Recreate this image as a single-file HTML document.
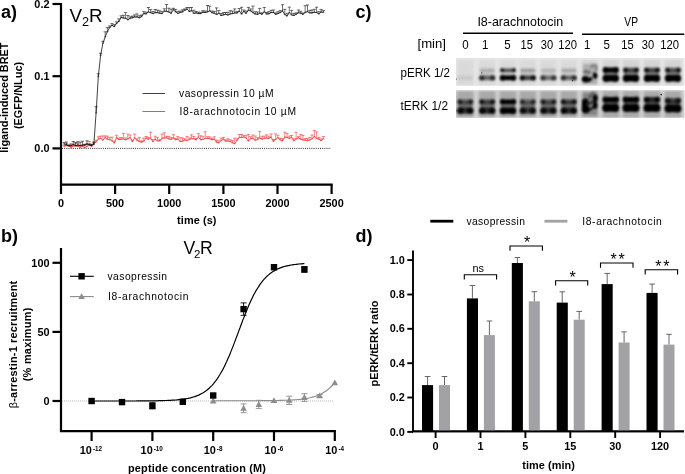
<!DOCTYPE html>
<html><head><meta charset="utf-8"><title>figure</title>
<style>
html,body{margin:0;padding:0;background:#fff}
svg{display:block}
text{font-family:"Liberation Sans",sans-serif;fill:#000}
.b{font-weight:bold}
.ax{stroke:#000;stroke-width:2.2;fill:none;stroke-linecap:butt}
#panel-d .ax{stroke-width:1.9}
</style></head><body>
<svg width="685" height="474" viewBox="0 0 685 474">
<defs><filter id="bl" x="-20%" y="-50%" width="140%" height="200%"><feGaussianBlur stdDeviation="1.1"/></filter><filter id="bl3" x="-30%" y="-30%" width="160%" height="160%"><feGaussianBlur stdDeviation="1.6"/></filter><filter id="bl2" x="-20%" y="-50%" width="140%" height="200%"><feGaussianBlur stdDeviation="0.7"/></filter><clipPath id="cp1"><rect x="456" y="58" width="228.5" height="27.8"/></clipPath><clipPath id="cp2"><rect x="456" y="90.2" width="228.5" height="27.6"/></clipPath></defs>
<rect width="685" height="474" fill="#fff"/>
<g id="panel-a">
<text class="b" x="1" y="17.8" font-size="18">a)</text>
<text x="69.5" y="22.3" font-size="17.7" textLength="33.2" lengthAdjust="spacingAndGlyphs">V<tspan dy="3.5" font-size="12">2</tspan><tspan dy="-3.5">R</tspan></text>
<path class="ax" d="M61 2.9 V184.7 H332.7"/>
<path class="ax" d="M52.5 4.0 H61"/><text class="b" x="49.5" y="7.9" font-size="10.9" text-anchor="end">0.2</text>
<path class="ax" d="M52.5 76.2 H61"/><text class="b" x="49.5" y="80.1" font-size="10.9" text-anchor="end">0.1</text>
<path class="ax" d="M52.5 148.4 H61"/><text class="b" x="49.5" y="152.3" font-size="10.9" text-anchor="end">0.0</text>
<path class="ax" d="M61.0 184.7 V194"/><text class="b" x="61.0" y="207.3" font-size="10.9" text-anchor="middle">0</text>
<path class="ax" d="M115.1 184.7 V194"/><text class="b" x="115.1" y="207.3" font-size="10.9" text-anchor="middle">500</text>
<path class="ax" d="M169.2 184.7 V194"/><text class="b" x="169.2" y="207.3" font-size="10.9" text-anchor="middle">1000</text>
<path class="ax" d="M223.4 184.7 V194"/><text class="b" x="223.4" y="207.3" font-size="10.9" text-anchor="middle">1500</text>
<path class="ax" d="M277.5 184.7 V194"/><text class="b" x="277.5" y="207.3" font-size="10.9" text-anchor="middle">2000</text>
<path class="ax" d="M331.6 184.7 V194"/><text class="b" x="331.6" y="207.3" font-size="10.9" text-anchor="middle">2500</text>
<text class="b" x="196.8" y="224" font-size="10.9" text-anchor="middle" textLength="39.4">time (s)</text>
<text class="b" transform="translate(7.8,97.6) rotate(-90)" font-size="10.9" text-anchor="middle">ligand-induced BRET</text>
<text class="b" transform="translate(21.8,95.5) rotate(-90)" font-size="10.9" text-anchor="middle">(EGFP/NLuc)</text>
<path d="M62 148.4 H331" stroke="#111" stroke-width="0.9" stroke-dasharray="1 1.15" fill="none"/>
<path d="M64.2 146.3 L66.5 145.7 L68.8 145.8 L71.1 147.4 L73.3 146.0 L75.6 146.1 L77.9 146.2 L80.2 147.3 L82.4 146.4 L84.7 147.5 L87.0 146.5 L89.3 144.3 L91.5 146.5 L93.8 143.5 L96.1 142.0 L98.3 139.0 L100.6 138.5 L102.9 140.1 L105.2 137.6 L107.4 139.2 L109.7 139.7 L112.0 140.8 L114.3 142.9 L116.5 137.7 L118.8 139.5 L121.1 139.2 L123.4 139.0 L125.6 139.8 L127.9 138.9 L130.2 137.5 L132.4 141.5 L134.7 137.9 L137.0 140.2 L139.3 141.4 L141.5 142.2 L143.8 141.2 L146.1 138.1 L148.4 139.3 L150.6 138.3 L152.9 141.7 L155.2 139.2 L157.5 140.8 L159.7 141.0 L162.0 138.3 L164.3 138.0 L166.5 137.8 L168.8 138.9 L171.1 139.4 L173.4 138.2 L175.6 139.7 L177.9 139.1 L180.2 141.5 L182.5 141.3 L184.7 140.1 L187.0 140.5 L189.3 139.6 L191.5 138.7 L193.8 138.9 L196.1 139.9 L198.4 137.1 L200.6 139.8 L202.9 139.5 L205.2 138.4 L207.5 138.5 L209.7 138.7 L212.0 139.7 L214.3 139.3 L216.6 142.3 L218.8 142.8 L221.1 140.5 L223.4 139.2 L225.6 141.1 L227.9 141.1 L230.2 141.5 L232.5 142.8 L234.7 143.7 L237.0 140.4 L239.3 137.4 L241.6 137.4 L243.8 137.1 L246.1 137.9 L248.4 141.1 L250.7 138.6 L252.9 138.3 L255.2 140.2 L257.5 139.6 L259.7 138.1 L262.0 139.1 L264.3 138.5 L266.6 138.1 L268.8 138.3 L271.1 137.2 L273.4 141.3 L275.7 139.3 L277.9 137.7 L280.2 139.9 L282.5 140.9 L284.8 137.1 L287.0 137.5 L289.3 138.4 L291.6 137.5 L293.8 140.7 L296.1 138.9 L298.4 138.0 L300.7 139.2 L302.9 139.9 L305.2 140.2 L307.5 140.7 L309.8 140.0 L312.0 138.9 L314.3 136.6 L316.6 138.6 L318.9 139.1 L321.1 140.5 L323.4 138.9" stroke="#f03535" stroke-width="0.8" fill="none" stroke-linejoin="round"/>
<path d="M64.2 146.3V145.5M62.6 145.5H65.8M63.2 146.3H65.2M66.5 145.7V141.7M64.9 141.7H68.1M65.5 145.7H67.5M68.8 145.8V145.0M67.2 145.0H70.4M67.8 145.8H69.8M71.1 147.4V146.2M69.5 146.2H72.7M70.1 147.4H72.1M73.3 146.0V144.5M71.7 144.5H74.9M72.3 146.0H74.3M75.6 146.1V143.2M74.0 143.2H77.2M74.6 146.1H76.6M77.9 146.2V143.8M76.3 143.8H79.5M76.9 146.2H78.9M80.2 147.3V145.7M78.6 145.7H81.8M79.2 147.3H81.2M82.4 146.4V145.2M80.8 145.2H84.0M81.4 146.4H83.4M84.7 147.5V145.0M83.1 145.0H86.3M83.7 147.5H85.7M87.0 146.5V143.8M85.4 143.8H88.6M86.0 146.5H88.0M89.3 144.3V141.6M87.7 141.6H90.9M88.3 144.3H90.3M91.5 146.5V144.5M89.9 144.5H93.1M90.5 146.5H92.5M93.8 143.5V142.1M92.2 142.1H95.4M92.8 143.5H94.8M96.1 142.0V140.1M94.5 140.1H97.7M95.1 142.0H97.1M98.3 139.0V136.7M96.7 136.7H99.9M97.3 139.0H99.3M100.6 138.5V136.1M99.0 136.1H102.2M99.6 138.5H101.6M102.9 140.1V136.0M101.3 136.0H104.5M101.9 140.1H103.9M105.2 137.6V135.9M103.6 135.9H106.8M104.2 137.6H106.2M107.4 139.2V136.2M105.8 136.2H109.0M106.4 139.2H108.4M109.7 139.7V137.6M108.1 137.6H111.3M108.7 139.7H110.7M112.0 140.8V137.1M110.4 137.1H113.6M111.0 140.8H113.0M114.3 142.9V141.2M112.7 141.2H115.9M113.3 142.9H115.3M116.5 137.7V135.3M114.9 135.3H118.1M115.5 137.7H117.5M118.8 139.5V138.0M117.2 138.0H120.4M117.8 139.5H119.8M121.1 139.2V137.5M119.5 137.5H122.7M120.1 139.2H122.1M123.4 139.0V133.4M121.8 133.4H125.0M122.4 139.0H124.4M125.6 139.8V137.9M124.0 137.9H127.2M124.6 139.8H126.6M127.9 138.9V134.1M126.3 134.1H129.5M126.9 138.9H128.9M130.2 137.5V135.0M128.6 135.0H131.8M129.2 137.5H131.2M132.4 141.5V140.2M130.8 140.2H134.0M131.4 141.5H133.4M134.7 137.9V134.1M133.1 134.1H136.3M133.7 137.9H135.7M137.0 140.2V138.8M135.4 138.8H138.6M136.0 140.2H138.0M139.3 141.4V137.4M137.7 137.4H140.9M138.3 141.4H140.3M141.5 142.2V140.9M139.9 140.9H143.1M140.5 142.2H142.5M143.8 141.2V138.1M142.2 138.1H145.4M142.8 141.2H144.8M146.1 138.1V136.5M144.5 136.5H147.7M145.1 138.1H147.1M148.4 139.3V137.3M146.8 137.3H150.0M147.4 139.3H149.4M150.6 138.3V132.2M149.0 132.2H152.2M149.6 138.3H151.6M152.9 141.7V139.4M151.3 139.4H154.5M151.9 141.7H153.9M155.2 139.2V136.2M153.6 136.2H156.8M154.2 139.2H156.2M157.5 140.8V137.4M155.9 137.4H159.1M156.5 140.8H158.5M159.7 141.0V139.6M158.1 139.6H161.3M158.7 141.0H160.7M162.0 138.3V134.1M160.4 134.1H163.6M161.0 138.3H163.0M164.3 138.0V132.8M162.7 132.8H165.9M163.3 138.0H165.3M166.5 137.8V136.3M164.9 136.3H168.1M165.5 137.8H167.5M168.8 138.9V136.4M167.2 136.4H170.4M167.8 138.9H169.8M171.1 139.4V137.5M169.5 137.5H172.7M170.1 139.4H172.1M173.4 138.2V134.7M171.8 134.7H175.0M172.4 138.2H174.4M175.6 139.7V138.3M174.0 138.3H177.2M174.6 139.7H176.6M177.9 139.1V136.6M176.3 136.6H179.5M176.9 139.1H178.9M180.2 141.5V137.7M178.6 137.7H181.8M179.2 141.5H181.2M182.5 141.3V137.9M180.9 137.9H184.1M181.5 141.3H183.5M184.7 140.1V138.7M183.1 138.7H186.3M183.7 140.1H185.7M187.0 140.5V136.4M185.4 136.4H188.6M186.0 140.5H188.0M189.3 139.6V137.8M187.7 137.8H190.9M188.3 139.6H190.3M191.5 138.7V134.8M189.9 134.8H193.1M190.5 138.7H192.5M193.8 138.9V136.5M192.2 136.5H195.4M192.8 138.9H194.8M196.1 139.9V138.4M194.5 138.4H197.7M195.1 139.9H197.1M198.4 137.1V133.7M196.8 133.7H200.0M197.4 137.1H199.4M200.6 139.8V135.8M199.0 135.8H202.2M199.6 139.8H201.6M202.9 139.5V136.3M201.3 136.3H204.5M201.9 139.5H203.9M205.2 138.4V131.7M203.6 131.7H206.8M204.2 138.4H206.2M207.5 138.5V136.7M205.9 136.7H209.1M206.5 138.5H208.5M209.7 138.7V136.9M208.1 136.9H211.3M208.7 138.7H210.7M212.0 139.7V138.2M210.4 138.2H213.6M211.0 139.7H213.0M214.3 139.3V136.8M212.7 136.8H215.9M213.3 139.3H215.3M216.6 142.3V140.1M215.0 140.1H218.2M215.6 142.3H217.6M218.8 142.8V140.8M217.2 140.8H220.4M217.8 142.8H219.8M221.1 140.5V138.2M219.5 138.2H222.7M220.1 140.5H222.1M223.4 139.2V137.4M221.8 137.4H225.0M222.4 139.2H224.4M225.6 141.1V139.8M224.0 139.8H227.2M224.6 141.1H226.6M227.9 141.1V138.8M226.3 138.8H229.5M226.9 141.1H228.9M230.2 141.5V139.7M228.6 139.7H231.8M229.2 141.5H231.2M232.5 142.8V140.5M230.9 140.5H234.1M231.5 142.8H233.5M234.7 143.7V138.2M233.1 138.2H236.3M233.7 143.7H235.7M237.0 140.4V138.8M235.4 138.8H238.6M236.0 140.4H238.0M239.3 137.4V134.4M237.7 134.4H240.9M238.3 137.4H240.3M241.6 137.4V134.5M240.0 134.5H243.2M240.6 137.4H242.6M243.8 137.1V135.3M242.2 135.3H245.4M242.8 137.1H244.8M246.1 137.9V135.6M244.5 135.6H247.7M245.1 137.9H247.1M248.4 141.1V134.4M246.8 134.4H250.0M247.4 141.1H249.4M250.7 138.6V136.6M249.1 136.6H252.3M249.7 138.6H251.7M252.9 138.3V135.0M251.3 135.0H254.5M251.9 138.3H253.9M255.2 140.2V136.0M253.6 136.0H256.8M254.2 140.2H256.2M257.5 139.6V137.6M255.9 137.6H259.1M256.5 139.6H258.5M259.7 138.1V131.4M258.1 131.4H261.3M258.7 138.1H260.7M262.0 139.1V136.3M260.4 136.3H263.6M261.0 139.1H263.0M264.3 138.5V136.1M262.7 136.1H265.9M263.3 138.5H265.3M266.6 138.1V134.8M265.0 134.8H268.2M265.6 138.1H267.6M268.8 138.3V136.2M267.2 136.2H270.4M267.8 138.3H269.8M271.1 137.2V133.9M269.5 133.9H272.7M270.1 137.2H272.1M273.4 141.3V139.5M271.8 139.5H275.0M272.4 141.3H274.4M275.7 139.3V133.8M274.1 133.8H277.3M274.7 139.3H276.7M277.9 137.7V135.2M276.3 135.2H279.5M276.9 137.7H278.9M280.2 139.9V138.1M278.6 138.1H281.8M279.2 139.9H281.2M282.5 140.9V138.7M280.9 138.7H284.1M281.5 140.9H283.5M284.8 137.1V132.2M283.2 132.2H286.4M283.8 137.1H285.8M287.0 137.5V133.6M285.4 133.6H288.6M286.0 137.5H288.0M289.3 138.4V136.1M287.7 136.1H290.9M288.3 138.4H290.3M291.6 137.5V135.5M290.0 135.5H293.2M290.6 137.5H292.6M293.8 140.7V138.7M292.2 138.7H295.4M292.8 140.7H294.8M296.1 138.9V132.2M294.5 132.2H297.7M295.1 138.9H297.1M298.4 138.0V136.6M296.8 136.6H300.0M297.4 138.0H299.4M300.7 139.2V134.4M299.1 134.4H302.3M299.7 139.2H301.7M302.9 139.9V135.5M301.3 135.5H304.5M301.9 139.9H303.9M305.2 140.2V138.5M303.6 138.5H306.8M304.2 140.2H306.2M307.5 140.7V138.7M305.9 138.7H309.1M306.5 140.7H308.5M309.8 140.0V137.4M308.2 137.4H311.4M308.8 140.0H310.8M312.0 138.9V135.0M310.4 135.0H313.6M311.0 138.9H313.0M314.3 136.6V130.6M312.7 130.6H315.9M313.3 136.6H315.3M316.6 138.6V131.9M315.0 131.9H318.2M315.6 138.6H317.6M318.9 139.1V137.3M317.3 137.3H320.5M317.9 139.1H319.9M321.1 140.5V138.9M319.5 138.9H322.7M320.1 140.5H322.1M323.4 138.9V136.5M321.8 136.5H325.0M322.4 138.9H324.4" stroke="#f03535" stroke-width="0.6" fill="none"/>
<path d="M64.2 144.1 L66.5 144.9 L68.8 145.9 L71.1 145.7 L73.3 144.7 L75.6 145.7 L77.9 145.2 L80.2 145.6 L82.4 145.1 L84.7 145.1 L87.0 144.0 L89.3 145.1 L91.5 145.4 L93.8 144.6 L96.1 112.9 L98.3 76.6 L100.6 55.3 L102.9 43.3 L105.2 36.9 L107.4 31.7 L109.7 27.5 L112.0 25.4 L114.3 26.6 L116.5 23.5 L118.8 21.5 L121.1 17.5 L123.4 18.0 L125.6 18.3 L127.9 19.8 L130.2 18.3 L132.4 17.8 L134.7 17.0 L137.0 16.9 L139.3 17.8 L141.5 16.7 L143.8 13.6 L146.1 13.9 L148.4 12.0 L150.6 12.7 L152.9 13.6 L155.2 12.7 L157.5 12.6 L159.7 13.2 L162.0 13.6 L164.3 11.1 L166.5 11.3 L168.8 12.0 L171.1 13.3 L173.4 9.8 L175.6 11.8 L177.9 13.5 L180.2 12.5 L182.5 11.9 L184.7 10.3 L187.0 9.2 L189.3 11.5 L191.5 10.7 L193.8 13.4 L196.1 12.9 L198.4 13.6 L200.6 13.6 L202.9 12.2 L205.2 12.5 L207.5 11.9 L209.7 10.9 L212.0 12.7 L214.3 13.3 L216.6 14.4 L218.8 13.3 L221.1 15.5 L223.4 14.9 L225.6 14.3 L227.9 15.0 L230.2 14.0 L232.5 13.6 L234.7 13.0 L237.0 13.0 L239.3 11.2 L241.6 14.1 L243.8 11.5 L246.1 13.3 L248.4 10.3 L250.7 10.9 L252.9 12.7 L255.2 14.0 L257.5 14.3 L259.7 13.4 L262.0 14.2 L264.3 11.9 L266.6 14.0 L268.8 13.8 L271.1 12.6 L273.4 12.4 L275.7 14.3 L277.9 13.6 L280.2 12.6 L282.5 11.0 L284.8 14.6 L287.0 16.0 L289.3 12.7 L291.6 14.9 L293.8 15.5 L296.1 14.3 L298.4 12.8 L300.7 13.2 L302.9 14.3 L305.2 12.4 L307.5 11.7 L309.8 12.9 L312.0 12.9 L314.3 12.3 L316.6 12.6 L318.9 13.9 L321.1 12.1 L323.4 12.3" stroke="#111" stroke-width="0.8" fill="none" stroke-linejoin="round"/>
<path d="M64.2 144.1V142.6M62.6 142.6H65.8M63.2 144.1H65.2M66.5 144.9V143.1M64.9 143.1H68.1M65.5 144.9H67.5M68.8 145.9V145.0M67.2 145.0H70.4M67.8 145.9H69.8M71.1 145.7V143.9M69.5 143.9H72.7M70.1 145.7H72.1M73.3 144.7V141.5M71.7 141.5H74.9M72.3 144.7H74.3M75.6 145.7V142.6M74.0 142.6H77.2M74.6 145.7H76.6M77.9 145.2V141.6M76.3 141.6H79.5M76.9 145.2H78.9M80.2 145.6V142.3M78.6 142.3H81.8M79.2 145.6H81.2M82.4 145.1V141.2M80.8 141.2H84.0M81.4 145.1H83.4M84.7 145.1V144.3M83.1 144.3H86.3M83.7 145.1H85.7M87.0 144.0V140.8M85.4 140.8H88.6M86.0 144.0H88.0M89.3 145.1V144.1M87.7 144.1H90.9M88.3 145.1H90.3M91.5 145.4V144.2M89.9 144.2H93.1M90.5 145.4H92.5M93.8 144.6V142.3M92.2 142.3H95.4M92.8 144.6H94.8M96.1 112.9V106.7M94.5 106.7H97.7M95.1 112.9H97.1M98.3 76.6V73.8M96.7 73.8H99.9M97.3 76.6H99.3M100.6 55.3V53.3M99.0 53.3H102.2M99.6 55.3H101.6M102.9 43.3V41.3M101.3 41.3H104.5M101.9 43.3H103.9M105.2 36.9V31.8M103.6 31.8H106.8M104.2 36.9H106.2M107.4 31.7V27.6M105.8 27.6H109.0M106.4 31.7H108.4M109.7 27.5V25.9M108.1 25.9H111.3M108.7 27.5H110.7M112.0 25.4V23.6M110.4 23.6H113.6M111.0 25.4H113.0M114.3 26.6V24.6M112.7 24.6H115.9M113.3 26.6H115.3M116.5 23.5V21.8M114.9 21.8H118.1M115.5 23.5H117.5M118.8 21.5V18.9M117.2 18.9H120.4M117.8 21.5H119.8M121.1 17.5V15.8M119.5 15.8H122.7M120.1 17.5H122.1M123.4 18.0V15.3M121.8 15.3H125.0M122.4 18.0H124.4M125.6 18.3V12.6M124.0 12.6H127.2M124.6 18.3H126.6M127.9 19.8V15.5M126.3 15.5H129.5M126.9 19.8H128.9M130.2 18.3V16.8M128.6 16.8H131.8M129.2 18.3H131.2M132.4 17.8V16.1M130.8 16.1H134.0M131.4 17.8H133.4M134.7 17.0V14.9M133.1 14.9H136.3M133.7 17.0H135.7M137.0 16.9V13.9M135.4 13.9H138.6M136.0 16.9H138.0M139.3 17.8V15.7M137.7 15.7H140.9M138.3 17.8H140.3M141.5 16.7V15.0M139.9 15.0H143.1M140.5 16.7H142.5M143.8 13.6V11.6M142.2 11.6H145.4M142.8 13.6H144.8M146.1 13.9V12.2M144.5 12.2H147.7M145.1 13.9H147.1M148.4 12.0V7.5M146.8 7.5H150.0M147.4 12.0H149.4M150.6 12.7V9.5M149.0 9.5H152.2M149.6 12.7H151.6M152.9 13.6V11.5M151.3 11.5H154.5M151.9 13.6H153.9M155.2 12.7V9.5M153.6 9.5H156.8M154.2 12.7H156.2M157.5 12.6V10.1M155.9 10.1H159.1M156.5 12.6H158.5M159.7 13.2V10.8M158.1 10.8H161.3M158.7 13.2H160.7M162.0 13.6V11.6M160.4 11.6H163.6M161.0 13.6H163.0M164.3 11.1V8.8M162.7 8.8H165.9M163.3 11.1H165.3M166.5 11.3V4.5M164.9 4.5H168.1M165.5 11.3H167.5M168.8 12.0V8.2M167.2 8.2H170.4M167.8 12.0H169.8M171.1 13.3V9.2M169.5 9.2H172.7M170.1 13.3H172.1M173.4 9.8V8.3M171.8 8.3H175.0M172.4 9.8H174.4M175.6 11.8V9.4M174.0 9.4H177.2M174.6 11.8H176.6M177.9 13.5V11.4M176.3 11.4H179.5M176.9 13.5H178.9M180.2 12.5V11.0M178.6 11.0H181.8M179.2 12.5H181.2M182.5 11.9V9.8M180.9 9.8H184.1M181.5 11.9H183.5M184.7 10.3V8.9M183.1 8.9H186.3M183.7 10.3H185.7M187.0 9.2V7.5M185.4 7.5H188.6M186.0 9.2H188.0M189.3 11.5V7.6M187.7 7.6H190.9M188.3 11.5H190.3M191.5 10.7V7.5M189.9 7.5H193.1M190.5 10.7H192.5M193.8 13.4V10.2M192.2 10.2H195.4M192.8 13.4H194.8M196.1 12.9V11.5M194.5 11.5H197.7M195.1 12.9H197.1M198.4 13.6V12.1M196.8 12.1H200.0M197.4 13.6H199.4M200.6 13.6V12.3M199.0 12.3H202.2M199.6 13.6H201.6M202.9 12.2V10.7M201.3 10.7H204.5M201.9 12.2H203.9M205.2 12.5V11.0M203.6 11.0H206.8M204.2 12.5H206.2M207.5 11.9V5.5M205.9 5.5H209.1M206.5 11.9H208.5M209.7 10.9V6.1M208.1 6.1H211.3M208.7 10.9H210.7M212.0 12.7V11.0M210.4 11.0H213.6M211.0 12.7H213.0M214.3 13.3V11.6M212.7 11.6H215.9M213.3 13.3H215.3M216.6 14.4V7.9M215.0 7.9H218.2M215.6 14.4H217.6M218.8 13.3V10.6M217.2 10.6H220.4M217.8 13.3H219.8M221.1 15.5V13.5M219.5 13.5H222.7M220.1 15.5H222.1M223.4 14.9V12.6M221.8 12.6H225.0M222.4 14.9H224.4M225.6 14.3V12.5M224.0 12.5H227.2M224.6 14.3H226.6M227.9 15.0V12.3M226.3 12.3H229.5M226.9 15.0H228.9M230.2 14.0V10.7M228.6 10.7H231.8M229.2 14.0H231.2M232.5 13.6V11.1M230.9 11.1H234.1M231.5 13.6H233.5M234.7 13.0V8.9M233.1 8.9H236.3M233.7 13.0H235.7M237.0 13.0V11.5M235.4 11.5H238.6M236.0 13.0H238.0M239.3 11.2V8.5M237.7 8.5H240.9M238.3 11.2H240.3M241.6 14.1V7.3M240.0 7.3H243.2M240.6 14.1H242.6M243.8 11.5V10.0M242.2 10.0H245.4M242.8 11.5H244.8M246.1 13.3V11.0M244.5 11.0H247.7M245.1 13.3H247.1M248.4 10.3V7.4M246.8 7.4H250.0M247.4 10.3H249.4M250.7 10.9V8.9M249.1 8.9H252.3M249.7 10.9H251.7M252.9 12.7V6.1M251.3 6.1H254.5M251.9 12.7H253.9M255.2 14.0V11.7M253.6 11.7H256.8M254.2 14.0H256.2M257.5 14.3V12.0M255.9 12.0H259.1M256.5 14.3H258.5M259.7 13.4V8.4M258.1 8.4H261.3M258.7 13.4H260.7M262.0 14.2V12.8M260.4 12.8H263.6M261.0 14.2H263.0M264.3 11.9V7.4M262.7 7.4H265.9M263.3 11.9H265.3M266.6 14.0V12.5M265.0 12.5H268.2M265.6 14.0H267.6M268.8 13.8V11.7M267.2 11.7H270.4M267.8 13.8H269.8M271.1 12.6V10.3M269.5 10.3H272.7M270.1 12.6H272.1M273.4 12.4V10.0M271.8 10.0H275.0M272.4 12.4H274.4M275.7 14.3V12.9M274.1 12.9H277.3M274.7 14.3H276.7M277.9 13.6V11.7M276.3 11.7H279.5M276.9 13.6H278.9M280.2 12.6V10.6M278.6 10.6H281.8M279.2 12.6H281.2M282.5 11.0V4.7M280.9 4.7H284.1M281.5 11.0H283.5M284.8 14.6V9.3M283.2 9.3H286.4M283.8 14.6H285.8M287.0 16.0V13.3M285.4 13.3H288.6M286.0 16.0H288.0M289.3 12.7V7.1M287.7 7.1H290.9M288.3 12.7H290.3M291.6 14.9V10.4M290.0 10.4H293.2M290.6 14.9H292.6M293.8 15.5V13.4M292.2 13.4H295.4M292.8 15.5H294.8M296.1 14.3V12.8M294.5 12.8H297.7M295.1 14.3H297.1M298.4 12.8V10.0M296.8 10.0H300.0M297.4 12.8H299.4M300.7 13.2V11.3M299.1 11.3H302.3M299.7 13.2H301.7M302.9 14.3V13.0M301.3 13.0H304.5M301.9 14.3H303.9M305.2 12.4V5.7M303.6 5.7H306.8M304.2 12.4H306.2M307.5 11.7V5.0M305.9 5.0H309.1M306.5 11.7H308.5M309.8 12.9V10.4M308.2 10.4H311.4M308.8 12.9H310.8M312.0 12.9V10.0M310.4 10.0H313.6M311.0 12.9H313.0M314.3 12.3V9.3M312.7 9.3H315.9M313.3 12.3H315.3M316.6 12.6V7.2M315.0 7.2H318.2M315.6 12.6H317.6M318.9 13.9V11.6M317.3 11.6H320.5M317.9 13.9H319.9M321.1 12.1V9.4M319.5 9.4H322.7M320.1 12.1H322.1M323.4 12.3V10.6M321.8 10.6H325.0M322.4 12.3H324.4" stroke="#111" stroke-width="0.6" fill="none"/>
<path d="M142.5 93.5 H165" stroke="#2a2a2a" stroke-width="0.9" fill="none"/><path d="M142.5 111.5 H165" stroke="#f03a3a" stroke-width="0.9" fill="none"/>
<text x="179" y="97.4" font-size="10.3" textLength="94.5" lengthAdjust="spacing">vasopressin 10 µM</text>
<text x="179.5" y="114.6" font-size="10.3" textLength="116.5" lengthAdjust="spacing">I8-arachnotocin 10 µM</text>
</g>
<g id="panel-b">
<text class="b" x="1" y="242.3" font-size="18">b)</text>
<text x="183.5" y="254" font-size="17.7">V<tspan dy="3.5" dx="-1.3" font-size="11.5">2</tspan><tspan dy="-3.5" dx="-0.3">R</tspan></text>
<path class="ax" d="M61 248 V431.2 H335.9"/>
<path class="ax" d="M52.5 262.8 H61"/><text class="b" x="49.5" y="266.7" font-size="10.9" text-anchor="end">100</text>
<path class="ax" d="M52.5 331.9 H61"/><text class="b" x="49.5" y="335.8" font-size="10.9" text-anchor="end">50</text>
<path class="ax" d="M52.5 401.0 H61"/><text class="b" x="49.5" y="404.9" font-size="10.9" text-anchor="end">0</text>
<path class="ax" d="M91.6 431.2 V441"/><text class="b" x="79.8" y="453.6" font-size="10.9">10<tspan dy="-3" dx="1" font-size="6.3">-12</tspan></text>
<path class="ax" d="M152.4 431.2 V441"/><text class="b" x="140.6" y="453.6" font-size="10.9">10<tspan dy="-3" dx="1" font-size="6.3">-10</tspan></text>
<path class="ax" d="M213.2 431.2 V441"/><text class="b" x="203.7" y="453.6" font-size="10.9">10<tspan dy="-3" dx="1" font-size="6.3">-8</tspan></text>
<path class="ax" d="M274.0 431.2 V441"/><text class="b" x="264.5" y="453.6" font-size="10.9">10<tspan dy="-3" dx="1" font-size="6.3">-6</tspan></text>
<path class="ax" d="M334.8 431.2 V441"/><text class="b" x="325.3" y="453.6" font-size="10.9">10<tspan dy="-3" dx="1" font-size="6.3">-4</tspan></text>
<text class="b" x="197" y="472.2" font-size="10.9" text-anchor="middle" textLength="138">peptide concentration (M)</text>
<text class="b" transform="translate(17.2,344.5) rotate(-90)" font-size="10.9" text-anchor="middle" textLength="127.4"><tspan font-weight="normal">β</tspan>-arrestin-1 recruitment</text>
<text class="b" transform="translate(31.2,344.5) rotate(-90)" font-size="10.9" text-anchor="middle" textLength="73.6">(% maximum)</text>
<path d="M62 401 H334" stroke="#999" stroke-width="0.8" stroke-dasharray="0.9 1.1" fill="none"/>
<path d="M213.2 400.7 L214.7 400.7 L216.3 400.7 L217.8 400.7 L219.4 400.7 L220.9 400.7 L222.4 400.7 L224.0 400.7 L225.5 400.7 L227.1 400.7 L228.6 400.7 L230.1 400.7 L231.7 400.7 L233.2 400.7 L234.7 400.7 L236.3 400.7 L237.8 400.7 L239.4 400.7 L240.9 400.7 L242.4 400.7 L244.0 400.7 L245.5 400.7 L247.1 400.7 L248.6 400.7 L250.1 400.7 L251.7 400.7 L253.2 400.7 L254.8 400.7 L256.3 400.7 L257.8 400.7 L259.4 400.7 L260.9 400.7 L262.5 400.6 L264.0 400.6 L265.5 400.6 L267.1 400.6 L268.6 400.6 L270.2 400.6 L271.7 400.6 L273.2 400.5 L274.8 400.5 L276.3 400.5 L277.8 400.5 L279.4 400.4 L280.9 400.4 L282.5 400.3 L284.0 400.3 L285.5 400.3 L287.1 400.2 L288.6 400.1 L290.2 400.1 L291.7 400.0 L293.2 399.9 L294.8 399.8 L296.3 399.7 L297.9 399.5 L299.4 399.4 L300.9 399.2 L302.5 399.0 L304.0 398.8 L305.6 398.6 L307.1 398.3 L308.6 398.0 L310.2 397.7 L311.7 397.3 L313.3 396.9 L314.8 396.5 L316.3 395.9 L317.9 395.4 L319.4 394.7 L320.9 394.0 L322.5 393.2 L324.0 392.3 L325.6 391.3 L327.1 390.2 L328.6 388.9 L330.2 387.5 L331.7 386.0 L333.3 384.3 L334.8 382.4" stroke="#8c8c8c" stroke-width="1.1" fill="none"/>
<path d="M213.2 397.6 L216.5 403.4 H209.9Z" fill="#8c8c8c"/>
<path d="M243.6 403.9V412.7M240.6 403.9H246.6M240.6 412.7H246.6" stroke="#8c8c8c" stroke-width="0.9" fill="none"/><path d="M243.6 404.9 L246.9 410.7 H240.3Z" fill="#8c8c8c"/>
<path d="M258.8 400.3V408.6M255.8 400.3H261.8M255.8 408.6H261.8" stroke="#8c8c8c" stroke-width="0.9" fill="none"/><path d="M258.8 401.1 L262.1 406.9 H255.5Z" fill="#8c8c8c"/>
<path d="M274.0 397.2 L277.3 403.0 H270.7Z" fill="#8c8c8c"/>
<path d="M289.2 396.2V404.5M286.2 396.2H292.2M286.2 404.5H292.2" stroke="#8c8c8c" stroke-width="0.9" fill="none"/><path d="M289.2 396.9 L292.5 402.7 H285.9Z" fill="#8c8c8c"/>
<path d="M304.4 393.7V401.4M301.4 393.7H307.4M301.4 401.4H307.4" stroke="#8c8c8c" stroke-width="0.9" fill="none"/><path d="M304.4 394.1 L307.7 399.9 H301.1Z" fill="#8c8c8c"/>
<path d="M319.6 394.5V397.3M316.6 394.5H322.6M316.6 397.3H322.6" stroke="#8c8c8c" stroke-width="0.9" fill="none"/><path d="M319.6 392.5 L322.9 398.3 H316.3Z" fill="#8c8c8c"/>
<path d="M334.8 379.4 L338.1 385.2 H331.5Z" fill="#8c8c8c"/>
<path d="M91.6 401.0 L92.9 401.0 L94.3 401.0 L95.6 401.0 L97.0 401.0 L98.3 401.0 L99.6 401.0 L101.0 401.0 L102.3 401.0 L103.6 401.0 L105.0 401.0 L106.3 401.0 L107.7 401.0 L109.0 401.0 L110.3 401.0 L111.7 401.0 L113.0 401.0 L114.4 401.0 L115.7 401.0 L117.0 401.0 L118.4 401.0 L119.7 401.0 L121.0 401.0 L122.4 401.0 L123.7 401.0 L125.1 401.0 L126.4 401.0 L127.7 401.0 L129.1 401.0 L130.4 401.0 L131.8 401.0 L133.1 401.0 L134.4 401.0 L135.8 401.0 L137.1 400.9 L138.4 400.9 L139.8 400.9 L141.1 400.9 L142.5 400.9 L143.8 400.9 L145.1 400.9 L146.5 400.9 L147.8 400.9 L149.1 400.9 L150.5 400.9 L151.8 400.8 L153.2 400.8 L154.5 400.8 L155.8 400.8 L157.2 400.8 L158.5 400.7 L159.9 400.7 L161.2 400.7 L162.5 400.6 L163.9 400.6 L165.2 400.5 L166.5 400.5 L167.9 400.4 L169.2 400.4 L170.6 400.3 L171.9 400.2 L173.2 400.2 L174.6 400.1 L175.9 400.0 L177.3 399.8 L178.6 399.7 L179.9 399.6 L181.3 399.4 L182.6 399.2 L183.9 399.1 L185.3 398.8 L186.6 398.6 L188.0 398.4 L189.3 398.1 L190.6 397.8 L192.0 397.4 L193.3 397.0 L194.7 396.6 L196.0 396.1 L197.3 395.6 L198.7 395.1 L200.0 394.4 L201.3 393.7 L202.7 393.0 L204.0 392.2 L205.4 391.3 L206.7 390.3 L208.0 389.2 L209.4 388.0 L210.7 386.7 L212.1 385.3 L213.4 383.8 L214.7 382.2 L216.1 380.4 L217.4 378.6 L218.7 376.5 L220.1 374.3 L221.4 372.0 L222.8 369.6 L224.1 367.0 L225.4 364.2 L226.8 361.3 L228.1 358.3 L229.5 355.2 L230.8 351.9 L232.1 348.6 L233.5 345.1 L234.8 341.6 L236.1 338.1 L237.5 334.5 L238.8 330.9 L240.2 327.3 L241.5 323.7 L242.8 320.1 L244.2 316.7 L245.5 313.3 L246.9 310.0 L248.2 306.8 L249.5 303.7 L250.9 300.8 L252.2 298.0 L253.5 295.3 L254.9 292.8 L256.2 290.4 L257.6 288.2 L258.9 286.1 L260.2 284.1 L261.6 282.3 L262.9 280.6 L264.2 279.1 L265.6 277.6 L266.9 276.3 L268.3 275.1 L269.6 274.0 L270.9 272.9 L272.3 272.0 L273.6 271.1 L275.0 270.4 L276.3 269.6 L277.6 269.0 L279.0 268.4 L280.3 267.9 L281.6 267.4 L283.0 266.9 L284.3 266.5 L285.7 266.2 L287.0 265.9 L288.3 265.6 L289.7 265.3 L291.0 265.0 L292.4 264.8 L293.7 264.6 L295.0 264.5 L296.4 264.3 L297.7 264.1 L299.0 264.0 L300.4 263.9 L301.7 263.8 L303.1 263.7 L304.4 263.6" stroke="#000" stroke-width="1.2" fill="none"/>
<rect x="88.4" y="397.8" width="6.4" height="6.4" fill="#000"/>
<rect x="118.8" y="398.9" width="6.4" height="6.4" fill="#000"/>
<path d="M152.4 402.8V408.9M149.4 402.8H155.4M149.4 408.9H155.4" stroke="#000" stroke-width="0.9" fill="none"/><rect x="149.2" y="402.6" width="6.4" height="6.4" fill="#000"/>
<rect x="179.6" y="398.6" width="6.4" height="6.4" fill="#000"/>
<rect x="210.0" y="392.3" width="6.4" height="6.4" fill="#000"/>
<path d="M243.6 302.9V315.3M240.6 302.9H246.6M240.6 315.3H246.6" stroke="#000" stroke-width="0.9" fill="none"/><rect x="240.4" y="305.9" width="6.4" height="6.4" fill="#000"/>
<path d="M274.0 265.1V269.3M271.0 265.1H277.0M271.0 269.3H277.0" stroke="#000" stroke-width="0.9" fill="none"/><rect x="270.8" y="264.0" width="6.4" height="6.4" fill="#000"/>
<path d="M304.4 266.7V272.2M301.4 266.7H307.4M301.4 272.2H307.4" stroke="#000" stroke-width="0.9" fill="none"/><rect x="301.2" y="266.2" width="6.4" height="6.4" fill="#000"/>
<path d="M70 276.3 H93.8" stroke="#000" stroke-width="1.1"/><rect x="78.4" y="273.1" width="6.4" height="6.4" fill="#000"/><path d="M70 296.6 H93.8" stroke="#8c8c8c" stroke-width="1.1"/><path d="M81.6 293.2 L84.9 299 H78.3Z" fill="#8c8c8c"/>
<text x="107.5" y="279.8" font-size="10.3" textLength="59.5" lengthAdjust="spacing">vasopressin</text>
<text x="108" y="300.2" font-size="10.3" textLength="80.5" lengthAdjust="spacing">I8-arachnotocin</text>
</g>
<g id="panel-c">
<text class="b" x="355.5" y="18" font-size="18">c)</text>
<text x="520.3" y="26.2" font-size="12.6" text-anchor="middle" textLength="85.8" lengthAdjust="spacingAndGlyphs">I8-arachnotocin</text>
<text x="631.2" y="26.2" font-size="12.6" text-anchor="middle" textLength="13.7" lengthAdjust="spacingAndGlyphs">VP</text>
<path d="M463 33.2 H573" stroke="#000" stroke-width="1.5"/><path d="M582 34.2 H684.3" stroke="#000" stroke-width="1.5"/>
<text x="417.5" y="48.1" font-size="12.4" textLength="28.5" lengthAdjust="spacingAndGlyphs">[min]</text>
<text x="465.4" y="48.5" font-size="12.9" text-anchor="middle" textLength="6.4" lengthAdjust="spacingAndGlyphs">0</text><text x="485.3" y="48.5" font-size="12.9" text-anchor="middle" textLength="6.4" lengthAdjust="spacingAndGlyphs">1</text><text x="507.4" y="48.5" font-size="12.9" text-anchor="middle" textLength="6.4" lengthAdjust="spacingAndGlyphs">5</text><text x="526.8" y="48.5" font-size="12.9" text-anchor="middle" textLength="12.4" lengthAdjust="spacingAndGlyphs">15</text><text x="547" y="48.5" font-size="12.9" text-anchor="middle" textLength="12.4" lengthAdjust="spacingAndGlyphs">30</text><text x="567.7" y="48.5" font-size="12.9" text-anchor="middle" textLength="18.8" lengthAdjust="spacingAndGlyphs">120</text><text x="587.3" y="48.5" font-size="12.9" text-anchor="middle" textLength="6.4" lengthAdjust="spacingAndGlyphs">1</text><text x="606.8" y="48.5" font-size="12.9" text-anchor="middle" textLength="6.4" lengthAdjust="spacingAndGlyphs">5</text><text x="627.4" y="48.5" font-size="12.9" text-anchor="middle" textLength="12.4" lengthAdjust="spacingAndGlyphs">15</text><text x="648" y="48.5" font-size="12.9" text-anchor="middle" textLength="12.4" lengthAdjust="spacingAndGlyphs">30</text><text x="669.6" y="48.5" font-size="12.9" text-anchor="middle" textLength="18.8" lengthAdjust="spacingAndGlyphs">120</text>
<text x="400.5" y="77.3" font-size="12.5" textLength="49.5" lengthAdjust="spacingAndGlyphs">pERK 1/2</text>
<text x="400.5" y="109.6" font-size="12.5" textLength="47.5" lengthAdjust="spacingAndGlyphs">tERK 1/2</text>
<rect x="456" y="58" width="228.5" height="27.8" fill="#e6e6e6"/>
<rect x="456" y="90.2" width="228.5" height="27.6" fill="#d3d3d3"/>
<g clip-path="url(#cp1)"><g filter="url(#bl3)"><rect x="457.0" y="60" width="16.6" height="26" fill="#000" opacity="0.05"/><rect x="478.9" y="60" width="16.6" height="26" fill="#000" opacity="0.05"/><rect x="499.7" y="60" width="16.6" height="26" fill="#000" opacity="0.05"/><rect x="519.5" y="60" width="16.6" height="26" fill="#000" opacity="0.05"/><rect x="540.1" y="60" width="16.6" height="26" fill="#000" opacity="0.05"/><rect x="560.5" y="60" width="16.6" height="26" fill="#000" opacity="0.05"/><rect x="581.7" y="60" width="16.6" height="26" fill="#000" opacity="0.08"/><rect x="602.5" y="60" width="16.6" height="26" fill="#000" opacity="0.08"/><rect x="622.7" y="60" width="16.6" height="26" fill="#000" opacity="0.08"/><rect x="643.7" y="60" width="16.6" height="26" fill="#000" opacity="0.08"/><rect x="664.7" y="60" width="16.6" height="26" fill="#000" opacity="0.08"/></g><g filter="url(#bl)"><rect x="457.4" y="75.5" width="15.8" height="4.8" rx="2.0" fill="#000" opacity="0.07"/><rect x="479.5" y="68.4" width="15.4" height="3.6" rx="1.5" fill="#000" opacity="0.19"/><rect x="479.3" y="75.5" width="15.8" height="4.8" rx="2.0" fill="#000" opacity="0.53"/><circle cx="481.7" cy="77.9" r="2.7" fill="#000" opacity="0.62"/><circle cx="492.7" cy="77.9" r="2.7" fill="#000" opacity="0.62"/><rect x="480.2" y="71.0" width="14.0" height="5.0" fill="#000" opacity="0.0744"/><rect x="500.3" y="68.4" width="15.4" height="3.6" rx="1.5" fill="#000" opacity="0.61"/><circle cx="502.1" cy="70.2" r="2.1" fill="#000" opacity="0.72"/><circle cx="513.9" cy="70.2" r="2.1" fill="#000" opacity="0.72"/><rect x="500.1" y="75.5" width="15.8" height="4.8" rx="2.0" fill="#000"/><circle cx="502.5" cy="77.9" r="2.8" fill="#000"/><circle cx="513.5" cy="77.9" r="2.8" fill="#000"/><rect x="501.0" y="71.0" width="14.0" height="5.0" fill="#000" opacity="0.12"/><rect x="520.1" y="68.4" width="15.4" height="3.6" rx="1.5" fill="#000" opacity="0.26"/><rect x="519.9" y="75.5" width="15.8" height="4.8" rx="2.0" fill="#000" opacity="0.68"/><circle cx="522.3" cy="77.9" r="2.7" fill="#000" opacity="0.8"/><circle cx="533.3" cy="77.9" r="2.7" fill="#000" opacity="0.8"/><rect x="520.8" y="71.0" width="14.0" height="5.0" fill="#000" opacity="0.096"/><rect x="540.7" y="68.4" width="15.4" height="3.6" rx="1.5" fill="#000" opacity="0.15"/><rect x="540.5" y="75.5" width="15.8" height="4.8" rx="2.0" fill="#000" opacity="0.47"/><circle cx="542.9" cy="77.9" r="2.7" fill="#000" opacity="0.55"/><circle cx="553.9" cy="77.9" r="2.7" fill="#000" opacity="0.55"/><rect x="541.4" y="71.0" width="14.0" height="5.0" fill="#000" opacity="0.066"/><rect x="561.1" y="68.4" width="15.4" height="3.6" rx="1.5" fill="#000" opacity="0.22"/><rect x="560.9" y="75.5" width="15.8" height="4.8" rx="2.0" fill="#000" opacity="0.51"/><circle cx="563.3" cy="77.9" r="2.7" fill="#000" opacity="0.6"/><circle cx="574.3" cy="77.9" r="2.7" fill="#000" opacity="0.6"/><rect x="561.8" y="71.0" width="14.0" height="5.0" fill="#000" opacity="0.072"/><rect x="603.1" y="67.4" width="15.4" height="5.2" rx="2.2" fill="#000"/><circle cx="605.6" cy="70.0" r="3.0" fill="#000"/><circle cx="615.9" cy="70.0" r="3.0" fill="#000"/><rect x="602.9" y="75.0" width="15.8" height="6.6" rx="2.8" fill="#000"/><circle cx="606.1" cy="78.3" r="3.6" fill="#000"/><circle cx="615.4" cy="78.3" r="3.6" fill="#000"/><rect x="603.8" y="71.0" width="14.0" height="5.0" fill="#000" opacity="0.4"/><rect x="623.3" y="67.8" width="15.4" height="4.4" rx="1.8" fill="#000" opacity="0.64"/><circle cx="625.5" cy="70.0" r="2.5" fill="#000" opacity="0.75"/><circle cx="636.5" cy="70.0" r="2.5" fill="#000" opacity="0.75"/><rect x="623.1" y="75.0" width="15.8" height="6.6" rx="2.8" fill="#000"/><circle cx="626.4" cy="78.3" r="3.6" fill="#000"/><circle cx="635.6" cy="78.3" r="3.6" fill="#000"/><rect x="624.0" y="71.0" width="14.0" height="5.0" fill="#000" opacity="0.4"/><rect x="644.3" y="67.8" width="15.4" height="4.4" rx="1.8" fill="#000" opacity="0.64"/><circle cx="646.5" cy="70.0" r="2.5" fill="#000" opacity="0.75"/><circle cx="657.5" cy="70.0" r="2.5" fill="#000" opacity="0.75"/><rect x="644.1" y="75.0" width="15.8" height="6.6" rx="2.8" fill="#000"/><circle cx="647.4" cy="78.3" r="3.6" fill="#000"/><circle cx="656.6" cy="78.3" r="3.6" fill="#000"/><rect x="645.0" y="71.0" width="14.0" height="5.0" fill="#000" opacity="0.4"/><rect x="665.3" y="67.8" width="15.4" height="4.4" rx="1.8" fill="#000" opacity="0.59"/><circle cx="667.5" cy="70.0" r="2.5" fill="#000" opacity="0.7"/><circle cx="678.5" cy="70.0" r="2.5" fill="#000" opacity="0.7"/><rect x="665.1" y="75.0" width="15.8" height="6.6" rx="2.8" fill="#000"/><circle cx="668.4" cy="78.3" r="3.6" fill="#000"/><circle cx="677.6" cy="78.3" r="3.6" fill="#000"/><rect x="666.0" y="71.0" width="14.0" height="5.0" fill="#000" opacity="0.4"/><rect x="583" y="64" width="14" height="20" fill="#000" opacity="0.18"/><ellipse cx="585.4" cy="79.2" rx="3.7" ry="3.1" fill="#000"/><path d="M585 80.5 Q590 81.5 591.5 77.5" stroke="#000" stroke-width="3" fill="none"/><path d="M592.8 73.5 Q595.5 71 597.3 75.5 Q597.5 78.8 595 78.6 Q592.5 77 592.8 73.5Z" fill="#000"/><ellipse cx="595.2" cy="75.6" rx="2.2" ry="2.9" fill="#000"/><path d="M583.5 72.5 Q587 70.5 590 73.5" stroke="#000" stroke-width="3.2" fill="none" opacity="0.38"/><path d="M591 68 Q593 63 596.5 66.5 L596.5 71" stroke="#000" stroke-width="3" fill="none" opacity="0.25"/></g></g>
<g clip-path="url(#cp2)"><g filter="url(#bl3)"><rect x="456.9" y="91" width="16.8" height="27" fill="#000" opacity="0.2"/><rect x="478.8" y="91" width="16.8" height="27" fill="#000" opacity="0.2"/><rect x="499.6" y="91" width="16.8" height="27" fill="#000" opacity="0.2"/><rect x="519.4" y="91" width="16.8" height="27" fill="#000" opacity="0.2"/><rect x="540.0" y="91" width="16.8" height="27" fill="#000" opacity="0.2"/><rect x="560.4" y="91" width="16.8" height="27" fill="#000" opacity="0.2"/><rect x="581.6" y="91" width="16.8" height="27" fill="#000" opacity="0.2"/><rect x="602.4" y="91" width="16.8" height="27" fill="#000" opacity="0.2"/><rect x="622.6" y="91" width="16.8" height="27" fill="#000" opacity="0.2"/><rect x="643.6" y="91" width="16.8" height="27" fill="#000" opacity="0.2"/><rect x="664.6" y="91" width="16.8" height="27" fill="#000" opacity="0.2"/></g><g filter="url(#bl)"><rect x="457.6" y="99.5" width="15.4" height="4.4" rx="1.8" fill="#000" opacity="0.53"/><circle cx="459.8" cy="101.7" r="2.5" fill="#000" opacity="0.62"/><circle cx="470.8" cy="101.7" r="2.5" fill="#000" opacity="0.62"/><rect x="457.4" y="107.8" width="15.8" height="6.0" rx="2.5" fill="#000" opacity="0.75"/><circle cx="460.4" cy="110.8" r="3.3" fill="#000" opacity="0.88"/><circle cx="470.2" cy="110.8" r="3.3" fill="#000" opacity="0.88"/><rect x="458.3" y="103.0" width="14.0" height="5.5" fill="#000" opacity="0.38"/><rect x="479.5" y="99.5" width="15.4" height="4.4" rx="1.8" fill="#000" opacity="0.59"/><circle cx="481.7" cy="101.7" r="2.5" fill="#000" opacity="0.7"/><circle cx="492.7" cy="101.7" r="2.5" fill="#000" opacity="0.7"/><rect x="479.3" y="107.8" width="15.8" height="6.0" rx="2.5" fill="#000" opacity="0.75"/><circle cx="482.3" cy="110.8" r="3.3" fill="#000" opacity="0.88"/><circle cx="492.1" cy="110.8" r="3.3" fill="#000" opacity="0.88"/><rect x="480.2" y="103.0" width="14.0" height="5.5" fill="#000" opacity="0.38"/><rect x="500.3" y="99.5" width="15.4" height="4.4" rx="1.8" fill="#000"/><circle cx="502.5" cy="101.7" r="2.6" fill="#000"/><circle cx="513.6" cy="101.7" r="2.6" fill="#000"/><rect x="500.1" y="107.8" width="15.8" height="6.0" rx="2.5" fill="#000"/><circle cx="503.1" cy="110.8" r="3.4" fill="#000"/><circle cx="512.9" cy="110.8" r="3.4" fill="#000"/><rect x="501.0" y="103.0" width="14.0" height="5.5" fill="#000" opacity="0.38"/><rect x="520.1" y="99.5" width="15.4" height="4.4" rx="1.8" fill="#000" opacity="0.47"/><circle cx="522.3" cy="101.7" r="2.5" fill="#000" opacity="0.55"/><circle cx="533.3" cy="101.7" r="2.5" fill="#000" opacity="0.55"/><rect x="519.9" y="107.8" width="15.8" height="6.0" rx="2.5" fill="#000" opacity="0.66"/><circle cx="522.9" cy="110.8" r="3.3" fill="#000" opacity="0.78"/><circle cx="532.7" cy="110.8" r="3.3" fill="#000" opacity="0.78"/><rect x="520.8" y="103.0" width="14.0" height="5.5" fill="#000" opacity="0.38"/><rect x="540.7" y="99.5" width="15.4" height="4.4" rx="1.8" fill="#000" opacity="0.55"/><circle cx="542.9" cy="101.7" r="2.5" fill="#000" opacity="0.65"/><circle cx="553.9" cy="101.7" r="2.5" fill="#000" opacity="0.65"/><rect x="540.5" y="107.8" width="15.8" height="6.0" rx="2.5" fill="#000" opacity="0.70"/><circle cx="543.5" cy="110.8" r="3.3" fill="#000" opacity="0.82"/><circle cx="553.3" cy="110.8" r="3.3" fill="#000" opacity="0.82"/><rect x="541.4" y="103.0" width="14.0" height="5.5" fill="#000" opacity="0.38"/><rect x="561.1" y="99.5" width="15.4" height="4.4" rx="1.8" fill="#000" opacity="0.64"/><circle cx="563.3" cy="101.7" r="2.5" fill="#000" opacity="0.75"/><circle cx="574.3" cy="101.7" r="2.5" fill="#000" opacity="0.75"/><rect x="560.9" y="107.8" width="15.8" height="6.0" rx="2.5" fill="#000" opacity="0.75"/><circle cx="563.9" cy="110.8" r="3.3" fill="#000" opacity="0.88"/><circle cx="573.7" cy="110.8" r="3.3" fill="#000" opacity="0.88"/><rect x="561.8" y="103.0" width="14.0" height="5.5" fill="#000" opacity="0.38"/><rect x="602.9" y="97.0" width="15.8" height="5.2" rx="2.2" fill="#000"/><circle cx="605.5" cy="99.6" r="3.0" fill="#000"/><circle cx="616.1" cy="99.6" r="3.0" fill="#000"/><rect x="602.7" y="104.3" width="16.2" height="7.4" rx="3.1" fill="#000"/><circle cx="606.3" cy="108.0" r="4.0" fill="#000"/><circle cx="615.2" cy="108.0" r="4.0" fill="#000"/><rect x="603.8" y="101.0" width="14.0" height="4.0" fill="#000" opacity="0.45"/><rect x="623.1" y="97.0" width="15.8" height="5.2" rx="2.2" fill="#000"/><circle cx="625.7" cy="99.6" r="3.0" fill="#000"/><circle cx="636.3" cy="99.6" r="3.0" fill="#000"/><rect x="622.9" y="104.3" width="16.2" height="7.4" rx="3.1" fill="#000"/><circle cx="626.5" cy="108.0" r="4.0" fill="#000"/><circle cx="635.5" cy="108.0" r="4.0" fill="#000"/><rect x="624.0" y="101.0" width="14.0" height="4.0" fill="#000" opacity="0.45"/><rect x="644.1" y="97.0" width="15.8" height="5.2" rx="2.2" fill="#000" opacity="0.77"/><circle cx="646.7" cy="99.6" r="2.9" fill="#000" opacity="0.9"/><circle cx="657.3" cy="99.6" r="2.9" fill="#000" opacity="0.9"/><rect x="643.9" y="104.3" width="16.2" height="7.4" rx="3.1" fill="#000"/><circle cx="647.5" cy="108.0" r="4.0" fill="#000"/><circle cx="656.5" cy="108.0" r="4.0" fill="#000"/><rect x="645.0" y="101.0" width="14.0" height="4.0" fill="#000" opacity="0.45"/><rect x="665.1" y="98.0" width="15.8" height="5.2" rx="2.2" fill="#000" opacity="0.59"/><circle cx="667.7" cy="100.6" r="2.9" fill="#000" opacity="0.7"/><circle cx="678.3" cy="100.6" r="2.9" fill="#000" opacity="0.7"/><rect x="664.9" y="104.8" width="16.2" height="7.4" rx="3.1" fill="#000"/><circle cx="668.5" cy="108.5" r="4.0" fill="#000"/><circle cx="677.5" cy="108.5" r="4.0" fill="#000"/><rect x="666.0" y="101.0" width="14.0" height="4.0" fill="#000" opacity="0.45"/><rect x="583" y="93" width="14" height="22" fill="#000" opacity="0.22"/><ellipse cx="585.6" cy="109" rx="3.9" ry="4.3" fill="#000"/><ellipse cx="585.2" cy="101.6" rx="3.2" ry="3.0" fill="#000"/><path d="M584 101 V110" stroke="#000" stroke-width="4" fill="none"/><ellipse cx="595.3" cy="98.2" rx="2.4" ry="3.6" fill="#000"/><ellipse cx="595.2" cy="105.6" rx="2.3" ry="3.4" fill="#000"/><path d="M595.2 98 V106" stroke="#000" stroke-width="2.6" fill="none"/><path d="M587 104.5 L593.5 101.5 M588 111 L593.5 107" stroke="#000" stroke-width="2.4" fill="none" opacity="0.8"/><path d="M589.5 99 Q591 93 594.5 92" stroke="#000" stroke-width="3" fill="none" opacity="0.3"/></g></g>
<circle cx="481.8" cy="72.8" r="0.6" fill="#222"/><circle cx="456.6" cy="79" r="0.5" fill="#333"/><circle cx="572.6" cy="80.6" r="0.6" fill="#222"/><circle cx="661.2" cy="94.6" r="0.8" fill="#111"/><circle cx="456.8" cy="110.8" r="0.5" fill="#222"/>
</g>
<g id="panel-d">
<text class="b" x="355.5" y="242.3" font-size="18">d)</text>
<path d="M430.3 221.2 H453.3" stroke="#000" stroke-width="2.8"/><path d="M544.5 221.2 H567.4" stroke="#a1a1a6" stroke-width="2.8"/>
<text x="466.5" y="224.9" font-size="10.3" textLength="58.5" lengthAdjust="spacing">vasopressin</text>
<text x="582.3" y="224.9" font-size="10.3" textLength="79.5" lengthAdjust="spacing">I8-arachnotocin</text>
<path class="ax" d="M413 250.4 V431.4 H684"/>
<path class="ax" d="M407.3 431.9 H413"/><text class="b" x="404.8" y="435.5" font-size="10.9" text-anchor="end">0.0</text>
<path class="ax" d="M407.3 397.5 H413"/><text class="b" x="404.8" y="401.1" font-size="10.9" text-anchor="end">0.2</text>
<path class="ax" d="M407.3 363.2 H413"/><text class="b" x="404.8" y="366.8" font-size="10.9" text-anchor="end">0.4</text>
<path class="ax" d="M407.3 328.8 H413"/><text class="b" x="404.8" y="332.4" font-size="10.9" text-anchor="end">0.6</text>
<path class="ax" d="M407.3 294.5 H413"/><text class="b" x="404.8" y="298.1" font-size="10.9" text-anchor="end">0.8</text>
<path class="ax" d="M407.3 260.1 H413"/><text class="b" x="404.8" y="263.7" font-size="10.9" text-anchor="end">1.0</text>
<path class="ax" d="M435.6 431.4 V438"/><text class="b" x="435.6" y="449.8" font-size="10.9" text-anchor="middle">0</text><path d="M427.6 385.1 V376.5 M424.8 376.5 H430.4" stroke="#555" stroke-width="0.9" fill="none"/><path d="M444.5 385.1 V376.5 M441.7 376.5 H447.3" stroke="#555" stroke-width="0.9" fill="none"/><rect x="422.0" y="385.1" width="11.1" height="46.3" fill="#000"/><rect x="439.0" y="385.1" width="11" height="46.3" fill="#a1a1a6"/>
<path class="ax" d="M480.5 431.4 V438"/><text class="b" x="480.5" y="449.8" font-size="10.9" text-anchor="middle">1</text><path d="M472.4 298.4 V285.5 M469.6 285.5 H475.2" stroke="#555" stroke-width="0.9" fill="none"/><path d="M489.4 335.1 V321.0 M486.6 321.0 H492.2" stroke="#555" stroke-width="0.9" fill="none"/><rect x="466.9" y="298.4" width="11.1" height="133.0" fill="#000"/><rect x="483.9" y="335.1" width="11" height="96.3" fill="#a1a1a6"/>
<path class="ax" d="M525.4 431.4 V438"/><text class="b" x="525.4" y="449.8" font-size="10.9" text-anchor="middle">5</text><path d="M517.4 263.0 V257.5 M514.6 257.5 H520.1" stroke="#555" stroke-width="0.9" fill="none"/><path d="M534.3 301.3 V291.7 M531.5 291.7 H537.1" stroke="#555" stroke-width="0.9" fill="none"/><rect x="511.8" y="263.0" width="11.1" height="168.4" fill="#000"/><rect x="528.8" y="301.3" width="11" height="130.1" fill="#a1a1a6"/>
<path class="ax" d="M570.3 431.4 V438"/><text class="b" x="570.3" y="449.8" font-size="10.9" text-anchor="middle">15</text><path d="M562.2 302.6 V291.8 M559.5 291.8 H565.0" stroke="#555" stroke-width="0.9" fill="none"/><path d="M579.2 319.7 V311.4 M576.4 311.4 H582.0" stroke="#555" stroke-width="0.9" fill="none"/><rect x="556.7" y="302.6" width="11.1" height="128.8" fill="#000"/><rect x="573.7" y="319.7" width="11" height="111.7" fill="#a1a1a6"/>
<path class="ax" d="M615.2 431.4 V438"/><text class="b" x="615.2" y="449.8" font-size="10.9" text-anchor="middle">30</text><path d="M607.2 284.1 V273.4 M604.4 273.4 H610.0" stroke="#555" stroke-width="0.9" fill="none"/><path d="M624.1 342.5 V331.9 M621.3 331.9 H626.9" stroke="#555" stroke-width="0.9" fill="none"/><rect x="601.6" y="284.1" width="11.1" height="147.3" fill="#000"/><rect x="618.6" y="342.5" width="11" height="88.9" fill="#a1a1a6"/>
<path class="ax" d="M660.1 431.4 V438"/><text class="b" x="660.1" y="449.8" font-size="10.9" text-anchor="middle">120</text><path d="M652.1 292.9 V284.1 M649.3 284.1 H654.9" stroke="#555" stroke-width="0.9" fill="none"/><path d="M669.0 344.6 V334.3 M666.2 334.3 H671.8" stroke="#555" stroke-width="0.9" fill="none"/><rect x="646.5" y="292.9" width="11.1" height="138.5" fill="#000"/><rect x="663.5" y="344.6" width="11" height="86.8" fill="#a1a1a6"/>
<path class="ax" d="M411.9 431.4 H684"/>
<text class="b" x="548.6" y="468.9" font-size="10.9" text-anchor="middle" textLength="52.5">time (min)</text>
<text class="b" transform="translate(378.3,343.5) rotate(-90)" font-size="10.9" text-anchor="middle">pERK/tERK ratio</text>
<path d="M464.3 279.6 V274.8 H496.6 V279.6" stroke="#000" stroke-width="1.1" fill="none"/><text x="478.3" y="271.8" font-size="10.9" text-anchor="middle">ns</text>
<path d="M510.0 250.8 V246.0 H542.4 V250.8" stroke="#000" stroke-width="1.1" fill="none"/><text x="527.1" y="248.0" font-size="16" text-anchor="middle" letter-spacing="0">*</text>
<path d="M555.6 285.6 V280.8 H587.7 V285.6" stroke="#000" stroke-width="1.1" fill="none"/><text x="572.6" y="282.8" font-size="16" text-anchor="middle" letter-spacing="0">*</text>
<path d="M600.5 267.8 V263.0 H633.0 V267.8" stroke="#000" stroke-width="1.1" fill="none"/><text x="618.6" y="265.0" font-size="16" text-anchor="middle" letter-spacing="1.9">**</text>
<path d="M645.2 274.6 V269.8 H677.6 V274.6" stroke="#000" stroke-width="1.1" fill="none"/><text x="663.3" y="271.8" font-size="16" text-anchor="middle" letter-spacing="1.9">**</text>
</g>
</svg>
</body></html>
